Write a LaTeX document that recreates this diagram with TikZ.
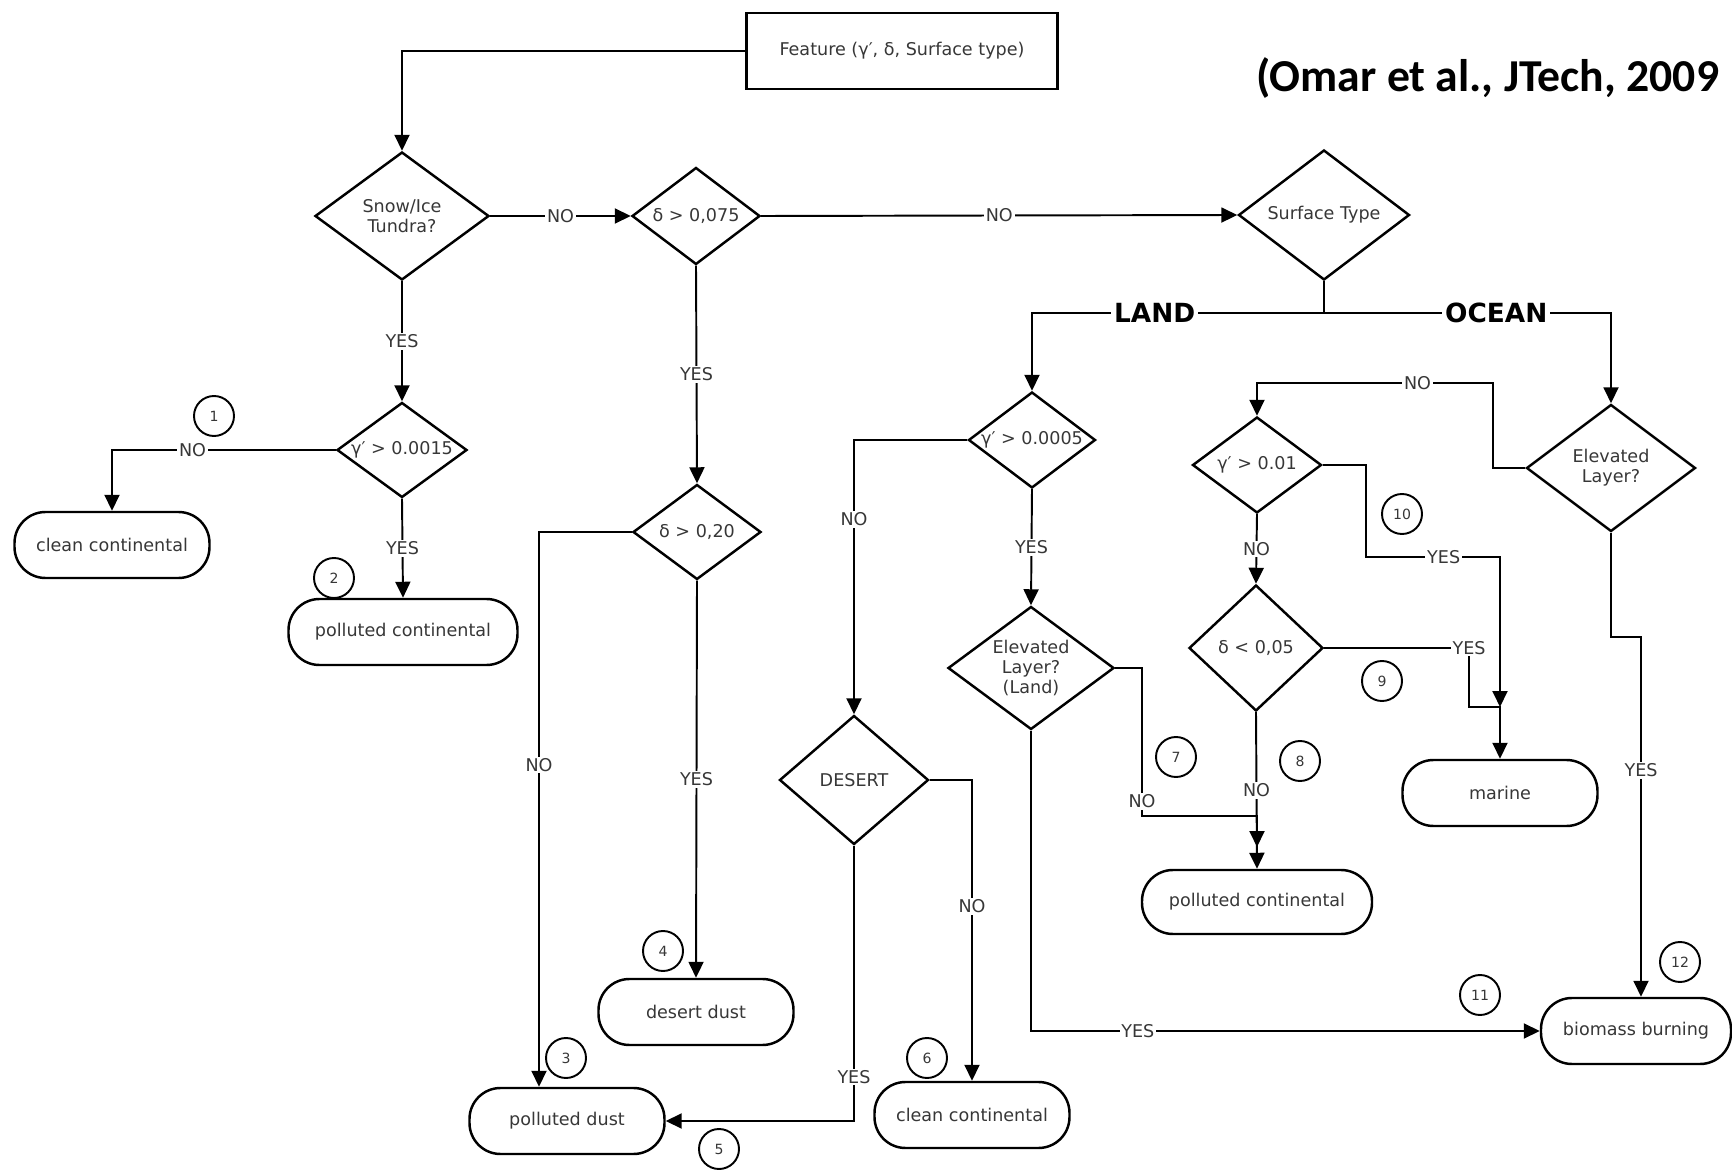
\documentclass[tikz,border=0pt]{standalone}
\usepackage{fontspec}
\setmainfont{DejaVu Sans}
\newfontfamily\citefont{Carlito}
\usetikzlibrary{shapes.geometric,arrows.meta}
\definecolor{txtgray}{RGB}{55,55,55}
\tikzset{
  decision/.style={diamond, draw, line width=1.4pt, inner sep=0pt, aspect=1.33,
    align=center, text=txtgray, font=\fontsize{10}{11.5}\selectfont},
  terminal/.style={rectangle, rounded corners=6.2mm, draw, line width=1.4pt,
    minimum width=39mm, minimum height=13.2mm, text=txtgray, font=\fontsize{10}{12}\selectfont},
  start/.style={rectangle, draw, line width=1.4pt, minimum width=62.2mm,
    minimum height=15.2mm, text=txtgray, font=\fontsize{10}{12}\selectfont},
  flow/.style={line width=1.1pt, -{Triangle[length=3.2mm,width=3mm]}},
  link/.style={line width=1.1pt},
  yesno/.style={fill=white, inner sep=1pt, text=txtgray, font=\fontsize{10}{12}\selectfont},
  branch/.style={fill=white, inner sep=1.5pt, font=\fontsize{15}{17}\selectfont\bfseries},
  tag/.style={circle, draw, line width=1.1pt, minimum size=8mm, inner sep=0pt,
    text=txtgray, font=\fontsize{8}{9}\selectfont},
  cite/.style={font=\citefont\bfseries\fontsize{26}{30}\selectfont, inner sep=0pt}
}
\begin{document}
\begin{tikzpicture}[x=0.2mm, y=-0.2mm]
\useasboundingbox (0,0) rectangle (1732,1171);
% reference
\node[cite, anchor=base west] (ref) at (1256,92) {(Omar et al., JTech, 2009};
% input
\node[start] (feat) at (902,51) {Feature (γ′, δ, Surface type)};
% decisions
\node[decision, minimum width=34.8mm, minimum height=25.6mm] (snow)   at ( 402,216) {Snow/Ice\\Tundra?};
\node[decision, minimum width=25.6mm, minimum height=19.4mm] (dA)     at ( 696,216) {δ > 0,075};
\node[decision, minimum width=34.2mm, minimum height=26.0mm] (surf)   at (1324,215) {Surface Type};
\node[decision, minimum width=26.0mm, minimum height=19.0mm] (gA)     at ( 402,450) {γ′ > 0.0015};
\node[decision, minimum width=25.6mm, minimum height=19.0mm] (dB)     at ( 697,532) {δ > 0,20};
\node[decision, minimum width=25.4mm, minimum height=19.2mm] (gB)     at (1032,440) {γ′ > 0.0005};
\node[decision, minimum width=29.8mm, minimum height=25.8mm] (desert) at ( 854,780) {DESERT};
\node[decision, minimum width=33.2mm, minimum height=24.6mm] (elL)    at (1031,668) {Elevated\\Layer?\\(Land)};
\node[decision, minimum width=25.8mm, minimum height=19.2mm] (gC)     at (1257,465) {γ′ > 0.01};
\node[decision, minimum width=26.8mm, minimum height=25.2mm] (dC)     at (1256,648) {δ < 0,05};
\node[decision, minimum width=33.8mm, minimum height=25.4mm] (elO)    at (1611,468) {Elevated\\Layer?};
% aerosol types
\node[terminal]                     (cc1) at ( 112, 545) {clean continental};
\node[terminal, minimum width=45.8mm] (pc1) at ( 403, 632) {polluted continental};
\node[terminal]                     (dd)  at ( 696,1012) {desert dust};
\node[terminal]                     (pd)  at ( 567,1121) {polluted dust};
\node[terminal]                     (cc2) at ( 972,1115) {clean continental};
\node[terminal, minimum width=46mm, minimum height=12.8mm] (pc2) at (1257,902) {polluted continental};
\node[terminal]                     (mar) at (1500, 793) {marine};
\node[terminal, minimum width=38mm] (bio) at (1636,1031) {biomass burning};
% numbers
\node[tag] (c1)  at ( 214, 416) {1};
\node[tag] (c2)  at ( 334, 578) {2};
\node[tag] (c3)  at ( 566,1058) {3};
\node[tag] (c4)  at ( 663, 951) {4};
\node[tag] (c5)  at ( 719,1149) {5};
\node[tag] (c6)  at ( 927,1058) {6};
\node[tag] (c7)  at (1176, 757) {7};
\node[tag] (c8)  at (1300, 761) {8};
\node[tag] (c9)  at (1382, 681) {9};
\node[tag] (c10) at (1402, 514) {10};
\node[tag] (c11) at (1480, 995) {11};
\node[tag] (c12) at (1680, 962) {12};
% helper points
\coordinate (fork) at (1324,313);
\coordinate (j7)   at (1142,816);
\coordinate (j8)   at (1257,847);
\coordinate (y10)  at (1366,557);
\coordinate (mj)   at (1500,707);
\coordinate (y9)   at (1469,707);
\coordinate (n10)  at (1493,383);
\coordinate (y12)  at (1611,637);
% connectors
\draw[flow] (feat.west) -| (snow.north);
\draw[flow] (snow.east) -- node[yesno] (l1) {NO} (dA.west);
\draw[flow] (dA.east) -- node[yesno] (l2) {NO} (surf.west);
\draw[flow] (snow.south) -- node[yesno] (l3) {YES} (gA.north);
\draw[flow] (gA.west) -| node[yesno, pos=0.32] (l4) {NO} (cc1.north);
\draw[flow] (gA.south) -- node[yesno] (l5) {YES} (pc1.north);
\draw[flow] (dA.south) -- node[yesno] (l6) {YES} (dB.north);
\draw[flow] (dB.west) -| node[yesno, pos=0.71] (l7) {NO} ([xshift=-5.6mm]pd.north);
\draw[flow] (dB.south) -- node[yesno] (l8) {YES} (dd.north);
\draw[link] (surf.south) -- (fork);
\draw[flow] (fork) -| node[branch, pos=0.29] (land) {LAND} (gB.north);
\draw[flow] (fork) -| node[branch, pos=0.30] (ocean) {OCEAN} (elO.north);
\draw[flow] (gB.west) -| node[yesno, pos=0.645] (l9) {NO} (desert.north);
\draw[flow] (gB.south) -- node[yesno] (l10) {YES} (elL.north);
\draw[flow] (desert.east) -| node[yesno, pos=0.71] (l11) {NO} (cc2.north);
\draw[flow] (desert.south) |- node[yesno, pos=0.42] (l12) {YES} (pd.east);
\draw[flow] (elL.east) -| node[yesno, pos=0.95] (l13) {NO} (j7) -| (j8);
\draw[flow] (elL.south) |- node[yesno, pos=0.605] (l14) {YES} (bio.west);
\draw[flow] (gC.south) -- node[yesno] (l15) {NO} (dC.north);
\draw[flow] (dC.south) -- node[yesno] (l16) {NO} (pc2.north);
\draw[flow] (gC.east) -| (y10) -| node[yesno, pos=0.29] (l17) {YES} (mj);
\draw[flow] (dC.east) -| node[yesno] (l18) {YES} (y9) -- (mj) -- (mar.north);
\draw[flow] (elO.west) -| (n10) -| node[yesno, pos=0.16] (l19) {NO} (gC.north);
\draw[flow] (elO.south) -- (y12) -| node[yesno, pos=0.685] (l20) {YES} ([xshift=1mm]bio.north);
\end{tikzpicture}
\end{document}
